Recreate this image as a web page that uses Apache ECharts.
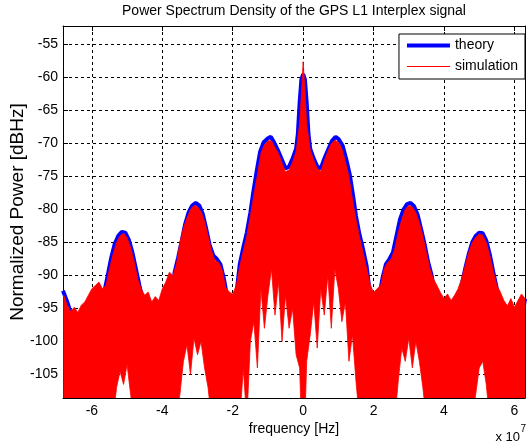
<!DOCTYPE html>
<html>
<head>
<meta charset="utf-8">
<script src="https://cdn.jsdelivr.net/npm/echarts@6/dist/echarts.min.js"></script>
<style>
  html, body { margin: 0; padding: 0; background: #fff; }
  #chart { width: 531px; height: 447px; }
</style>
</head>
<body>
<div id="chart"></div>
<script>
// frequency in units of 1e7 Hz, power in dBHz
const theoryFreq = [
  -6.82, -6.7, -6.55, -6.3, -6.0, -5.8, -5.65, -5.55, -5.45, -5.35,
  -5.25, -5.15, -5.05, -4.95, -4.85, -4.75, -4.65, -4.5, -4.25, -4.0,
  -3.8, -3.65, -3.55, -3.45, -3.35, -3.25, -3.15, -3.05, -2.95, -2.85,
  -2.75, -2.65, -2.55, -2.45, -2.35, -2.25, -2.1, -2.0, -1.9, -1.8,
  -1.7, -1.6, -1.5, -1.42, -1.32, -1.22, -1.12, -1.0, -0.92, -0.82,
  -0.72, -0.6, -0.5, -0.4, -0.3, -0.2, -0.15, -0.1, -0.05, 0,
  0.05, 0.1, 0.15, 0.2, 0.3, 0.4, 0.5, 0.6, 0.72, 0.82,
  0.92, 1.0, 1.12, 1.22, 1.32, 1.42, 1.5, 1.6, 1.7, 1.8,
  1.9, 2.0, 2.1, 2.25, 2.35, 2.45, 2.55, 2.65, 2.75, 2.85,
  2.95, 3.05, 3.15, 3.25, 3.35, 3.45, 3.55, 3.65, 3.8, 4.0,
  4.25, 4.4, 4.5, 4.6, 4.7, 4.8, 4.9, 5.0, 5.1, 5.2,
  5.3, 5.4, 5.5, 5.65, 5.8, 6.0, 6.2, 6.3
];
const theoryPower = [
  -92.3, -94.0, -96.5, -100, -104, -97.5, -92.6, -90.0, -87.3, -85.2,
  -84.0, -83.4, -83.5, -84.6, -86.5, -89.0, -91.5, -95, -100, -104,
  -96, -89.5, -87.3, -84.8, -82.2, -80.4, -79.4, -79.0, -79.4, -80.7,
  -83.0, -85.5, -87.0, -87.5, -88.3, -90.5, -95, -98, -93, -88.3,
  -85.8, -83.5, -80.5, -77.5, -74.2, -71.2, -69.8, -69.2, -69.0, -69.9,
  -71.0, -72.5, -73.8, -73.5, -72.3, -70.8, -68.5, -63.8, -60.3, -59.5,
  -60.3, -63.8, -68.5, -70.8, -72.3, -73.5, -73.8, -72.3, -70.8, -69.6,
  -69.0, -69.3, -70.3, -72.3, -74.6, -78.0, -81.0, -83.8, -86.0, -88.5,
  -93, -98, -95, -90.5, -88.3, -87.5, -86.5, -84.0, -81.5, -80.0,
  -79.2, -79.0, -79.5, -80.8, -83.0, -85.3, -88.0, -90.0, -95, -104,
  -99, -93.5, -91.5, -89.0, -86.8, -85.0, -84.0, -83.5, -83.6, -84.7,
  -86.8, -89.5, -92.0, -96, -100, -104, -97, -93.5
];

const simFreq = [
  -6.8, -6.7, -6.6, -6.5, -6.4, -6.3, -6.2, -6.1, -6.0, -5.9,
  -5.8, -5.7, -5.6, -5.5, -5.4, -5.3, -5.2, -5.1, -5.0, -4.9,
  -4.8, -4.7, -4.6, -4.5, -4.4, -4.3, -4.2, -4.1, -4.0, -3.9,
  -3.8, -3.7, -3.6, -3.5, -3.4, -3.3, -3.2, -3.1, -3.0, -2.9,
  -2.8, -2.7, -2.6, -2.5, -2.4, -2.3, -2.2, -2.1, -2.0, -1.9,
  -1.8, -1.7, -1.6, -1.5, -1.4, -1.3, -1.2, -1.1, -1.0, -0.9,
  -0.8, -0.7, -0.6, -0.5, -0.4, -0.3, -0.2, -0.1, -0.05, 0,
  0.05, 0.1, 0.2, 0.3, 0.4, 0.5, 0.6, 0.7, 0.8, 0.9,
  1.0, 1.1, 1.2, 1.3, 1.4, 1.5, 1.6, 1.7, 1.8, 1.9,
  2.0, 2.1, 2.2, 2.3, 2.4, 2.5, 2.6, 2.7, 2.8, 2.9,
  3.0, 3.1, 3.2, 3.3, 3.4, 3.5, 3.6, 3.7, 3.8, 3.9,
  4.0, 4.1, 4.2, 4.3, 4.4, 4.5, 4.6, 4.7, 4.8, 4.9,
  5.0, 5.1, 5.2, 5.3, 5.4, 5.5, 5.6, 5.7, 5.8, 5.9,
  6.0, 6.1, 6.2, 6.3
];
// top edge of the noisy simulated periodogram
const simUpper = [
  -93.0, -94.5, -95.5, -94.8, -95.6, -94.5, -94.0, -93.0, -92.0, -91.5,
  -91.0, -92.0, -91.5, -89.0, -86.8, -85.0, -84.0, -83.6, -84.3, -85.8,
  -87.8, -90.5, -92.0, -93.0, -92.5, -94.0, -93.2, -93.8, -92.0, -91.0,
  -89.5, -90.0, -88.3, -85.0, -82.8, -81.3, -80.0, -79.4, -79.6, -80.3,
  -81.8, -84.0, -86.3, -87.8, -88.0, -89.2, -91.8, -92.5, -92.8, -91.5,
  -88.6, -86.3, -84.0, -81.0, -77.8, -74.8, -71.5, -70.2, -69.6, -69.6,
  -70.6, -71.5, -73.0, -74.3, -74.0, -72.8, -71.2, -67.0, -62.5, -57.6,
  -62.0, -67.0, -71.0, -72.5, -73.8, -74.2, -72.6, -71.2, -70.0, -69.5,
  -69.8, -70.8, -72.8, -75.0, -78.5, -81.5, -84.2, -86.5, -88.8, -91.3,
  -92.6, -92.0, -91.5, -89.0, -88.0, -87.5, -86.0, -83.5, -81.5, -80.0,
  -79.4, -79.6, -80.5, -82.0, -84.0, -86.5, -89.0, -90.5, -91.5, -92.6,
  -93.5, -92.8, -93.8, -93.0, -92.0, -90.5, -88.5, -86.5, -85.0, -84.2,
  -83.7, -83.9, -85.0, -87.0, -89.3, -91.5, -92.5, -93.8, -94.6, -93.5,
  -94.8, -93.8, -92.8, -93.5
];
// bottom edge of the simulated trace (-112 = reaches below the axis)
const simLower = [
  -112, -112, -112, -112, -112, -112, -112, -112, -112, -112,
  -112, -112, -112, -112, -112, -107, -104.5, -106.5, -103.5, -108,
  -112, -112, -112, -112, -112, -112, -112, -112, -112, -112,
  -112, -112, -112, -108, -103, -100.5, -105, -99.5, -102, -100,
  -104, -107, -112, -112, -112, -112, -112, -112, -112, -112,
  -112, -104, -112, -100, -97, -104, -92, -98, -93, -89,
  -96, -91, -100, -93, -98, -95, -102, -104, -112, -112,
  -112, -103, -99, -94, -101, -92, -96, -90, -98, -89,
  -92, -97, -94, -103, -99, -106, -112, -112, -112, -112,
  -112, -112, -112, -112, -112, -112, -112, -106, -101, -103,
  -99.5, -104, -100, -103, -107, -112, -112, -112, -112, -112,
  -112, -112, -112, -112, -112, -112, -112, -112, -112, -108,
  -104, -103, -106.5, -112, -112, -112, -112, -112, -112, -112,
  -112, -112, -112, -112
];

const xTicks = [-6, -4, -2, 0, 2, 4, 6];
const yTicks = [-105, -100, -95, -90, -85, -80, -75, -70, -65, -60, -55];

const font = "'Liberation Sans', Arial, sans-serif";
const chart = echarts.init(document.getElementById('chart'));

const theoryData = theoryFreq.map((f, i) => [f, theoryPower[i]]);
const simData = simFreq.map((f, i) => [f, simUpper[i], simLower[i]]);

// the whole simulated band as one polygon: top edge left to right, bottom edge back
const renderBand = (params, api) => {
  if (params.dataIndex !== 0) return null;
  const pts = [];
  simFreq.forEach((f, i) => pts.push(api.coord([f, simUpper[i]]).slice()));
  for (let i = simFreq.length - 1; i >= 0; i--) {
    pts.push(api.coord([simFreq[i], simLower[i]]).slice());
  }
  return {
    type: 'polygon',
    shape: { points: pts },
    style: { fill: '#ff0000', stroke: '#ff0000', lineWidth: 0.8 }
  };
};

const xRange = { min: -6.82, max: 6.30 };
const yRange = { min: -108.56, max: -52.2 };

const boxAxis = {
  axisLine: { show: true, onZero: false, lineStyle: { color: '#000', width: 1 } },
  axisTick: { show: true, inside: true, length: 5, lineStyle: { color: '#000' } },
  axisLabel: { show: false },
  splitLine: { show: false }
};

const option = {
  animation: false,
  backgroundColor: '#fff',
  grid: { left: 61, right: 6, top: 26, bottom: 49 },
  xAxis: [{
    type: 'value',
    ...xRange,
    axisLine: { show: true, onZero: false, lineStyle: { color: '#000', width: 1 } },
    axisTick: { show: true, inside: true, length: 5, customValues: xTicks, lineStyle: { color: '#000' } },
    axisLabel: { customValues: xTicks, margin: 6, color: '#000', fontSize: 14, fontFamily: font },
    splitLine: { show: true, lineStyle: { color: '#000', width: 1, type: [3, 3] } },
    name: 'frequency [Hz]',
    nameLocation: 'middle',
    nameGap: 24,
    nameMoveOverlap: false,
    nameTextStyle: { color: '#000', fontSize: 14, fontFamily: font }
  }, {
    type: 'value',
    position: 'top',
    ...xRange,
    ...boxAxis,
    axisTick: { ...boxAxis.axisTick, customValues: xTicks }
  }],
  yAxis: [{
    type: 'value',
    ...yRange,
    axisLine: { show: true, onZero: false, lineStyle: { color: '#000', width: 1 } },
    axisTick: { show: true, inside: true, length: 5, customValues: yTicks, lineStyle: { color: '#000' } },
    axisLabel: { customValues: yTicks, margin: 5, color: '#000', fontSize: 14, fontFamily: font },
    splitLine: { show: true, lineStyle: { color: '#000', width: 1, type: [3, 3] } },
    name: 'Normalized Power [dBHz]',
    nameLocation: 'middle',
    nameGap: 36,
    nameMoveOverlap: false,
    nameTextStyle: { color: '#000', fontSize: 19, fontFamily: font }
  }, {
    type: 'value',
    position: 'right',
    ...yRange,
    ...boxAxis,
    axisTick: { ...boxAxis.axisTick, customValues: yTicks }
  }],
  legend: {
    orient: 'vertical',
    right: 6,
    top: 34,
    padding: [4.5, 7, 5.5, 8],
    itemGap: 7,
    itemWidth: 43,
    itemHeight: 14,
    backgroundColor: '#fff',
    borderColor: '#000',
    borderWidth: 1,
    borderRadius: 0,
    itemStyle: { borderWidth: 0 },
    textStyle: { color: '#000', fontSize: 14, fontFamily: font },
    data: [
      { name: 'theory', icon: 'path://M0 0H43V4H0Z' },
      { name: 'simulation', icon: 'path://M0 0H43V1H0Z' }
    ]
  },
  graphic: [
    {
      type: 'text', x: 294, y: 11,
      style: { text: 'Power Spectrum Density of the GPS L1 Interplex signal', align: 'center', verticalAlign: 'middle', fill: '#000', font: '14px ' + font }
    },
    {
      type: 'text', x: 520, y: 437,
      style: { text: 'x 10', align: 'right', verticalAlign: 'middle', fill: '#000', font: '13px ' + font }
    },
    {
      type: 'text', x: 520.5, y: 429,
      style: { text: '7', align: 'left', verticalAlign: 'middle', fill: '#000', font: '10px ' + font }
    }
  ],
  series: [
    {
      name: 'theory',
      type: 'line',
      data: theoryData,
      symbol: 'none',
      color: '#0000ff',
      lineStyle: { color: '#0000ff', width: 4 },
      silent: true,
      z: 2
    },
    {
      name: 'simulation',
      type: 'custom',
      coordinateSystem: 'cartesian2d',
      dimensions: ['freq', 'top', 'bottom'],
      data: simData,
      encode: { x: 0, y: [1, 2] },
      renderItem: renderBand,
      clip: true,
      color: '#ff0000',
      itemStyle: { color: '#ff0000' },
      silent: true,
      z: 3
    }
  ]
};

chart.setOption(option);
</script>
</body>
</html>
